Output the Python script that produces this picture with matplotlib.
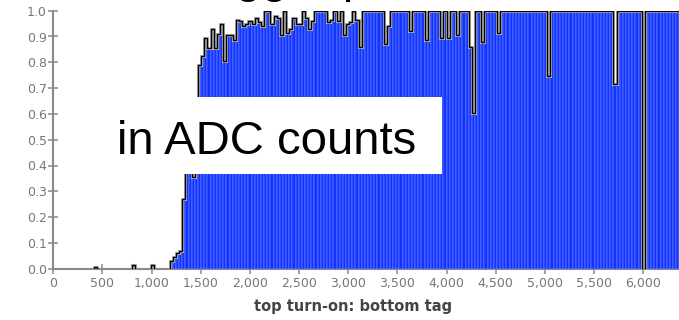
import numpy as np
import matplotlib
matplotlib.use("Agg")
import matplotlib.pyplot as plt
from matplotlib.patches import Rectangle

# trigger turn-on histogram: fraction of bottom-tagged events that fire the top
BIN_WIDTH = 32

# isolated low bins below threshold (left edge in ADC counts, fraction)
low_edges = [416, 800, 992]
low_frac = [0.008, 0.016, 0.016]

# contiguous turn-on region, starting at this bin edge
turn_on_first = 1184
turn_on_frac = [
    0.03, 0.044, 0.06, 0.069, 0.27, 0.45, 0.55, 0.356, 0.62,
    0.79, 0.826, 0.893, 0.857, 0.928, 0.857, 0.91, 0.948, 0.805, 0.906,
    0.906, 0.886, 0.964, 0.96, 0.94, 0.95, 0.96, 0.95, 0.973, 0.957,
    0.94, 1.0, 1.0, 0.948, 0.98, 0.97, 0.906, 1.0, 0.915, 0.93,
    0.973, 0.95, 0.95, 1.0, 0.97, 0.93, 0.96, 1.0, 1.0, 1.0,
    1.0, 0.957, 0.964, 1.0, 0.96, 1.0, 0.906, 0.95, 0.955, 1.0,
    0.964, 0.86, 1.0, 1.0, 1.0, 1.0, 1.0, 1.0, 1.0, 0.87,
    0.942, 1.0, 1.0, 1.0, 1.0, 1.0, 1.0, 0.921, 1.0, 1.0,
    1.0, 1.0, 0.886, 1.0, 1.0, 1.0, 1.0, 0.895, 1.0, 0.895,
    1.0, 1.0, 0.905, 1.0, 1.0, 1.0, 0.86, 0.602, 1.0, 1.0,
    0.877, 1.0, 1.0, 1.0, 1.0, 0.915, 1.0, 1.0, 1.0, 1.0,
    1.0, 1.0, 1.0, 1.0, 1.0, 1.0, 1.0, 1.0, 1.0, 1.0,
    1.0, 0.748, 1.0, 1.0, 1.0, 1.0, 1.0, 1.0, 1.0, 1.0,
    1.0, 1.0, 1.0, 1.0, 1.0, 1.0, 1.0, 1.0, 1.0, 1.0,
    1.0, 1.0, 0.715, 1.0, 1.0, 1.0, 1.0, 1.0, 1.0, 1.0,
    1.0, 0.0, 1.0, 1.0, 1.0, 1.0, 1.0, 1.0, 1.0, 1.0,
    1.0, 1.0, 1.0, 1.0,
]

x_ticks = list(range(0, 6001, 500))
y_ticks = [i / 10 for i in range(11)]

title_text = "Trigger plateau"
unit_note = "in ADC counts"
x_label = "top turn-on: bottom tag"

BLUE = "#1133ff"
STRIPE = "#9aaaff"
AXIS_GRAY = "#8a8a8a"

fig = plt.figure(figsize=(6.79, 3.20), dpi=100)
W, H = 679, 320
ax = fig.add_axes([53.3 / W, 51.3 / H, 1 - 53.3 / W, 258 / H])


def draw_run(first_edge, fracs):
    edges = first_edge + BIN_WIDTH * np.arange(len(fracs) + 1)
    ax.bar(edges[:-1], fracs, width=BIN_WIDTH, align="edge", color=BLUE,
           edgecolor=STRIPE, linewidth=0.3, zorder=2)
    ax.stairs(fracs, edges, baseline=0, color="#b0b0b0", linewidth=2.2, zorder=3)
    ax.stairs(fracs, edges, baseline=0, color="black", linewidth=1.0, zorder=4)


for e, f in zip(low_edges, low_frac):
    draw_run(e, [f])
draw_run(turn_on_first, turn_on_frac)

ax.set_xlim(0, 6363)
ax.set_ylim(0, 1.0)
ax.set_xticks(x_ticks)
ax.set_xticklabels([f"{t:,}" for t in x_ticks])
ax.set_yticks(y_ticks)
ax.set_yticklabels([f"{t:.1f}" for t in y_ticks])
ax.set_axisbelow(True)

for side in ("top", "right"):
    ax.spines[side].set_visible(False)
for side in ("left", "bottom"):
    ax.spines[side].set_color(AXIS_GRAY)
    ax.spines[side].set_linewidth(1.5)
    ax.spines[side].set_zorder(1.5)

ax.tick_params(direction="inout", length=6.5, width=1.1, color=AXIS_GRAY,
               labelcolor="#777777", labelsize=9)
ax.tick_params(axis="x", pad=2.5)
ax.tick_params(axis="y", pad=1.5)
ax.patch.set_alpha(0)

fig.text(353.5 / W, (H - 311) / H, x_label, ha="center", va="baseline",
         fontsize=10.5, fontweight="bold", color="#444444")

# slide overlays: heading sits mostly above the top edge
fig.text(0.5, 1 + 7.5 / H, title_text, ha="center", va="baseline",
         fontsize=34, family="Liberation Sans", color="black")
fig.add_artist(Rectangle((100 / W, (H - 174) / H), 342.3 / W, 77.3 / H,
                         transform=fig.transFigure, facecolor="white",
                         edgecolor="none", zorder=5))
fig.text(116.7 / W, (H - 154.3) / H, unit_note, ha="left", va="baseline",
         fontsize=34, family="Liberation Sans", color="black", zorder=6)

fig.savefig("out.png", dpi=100)
